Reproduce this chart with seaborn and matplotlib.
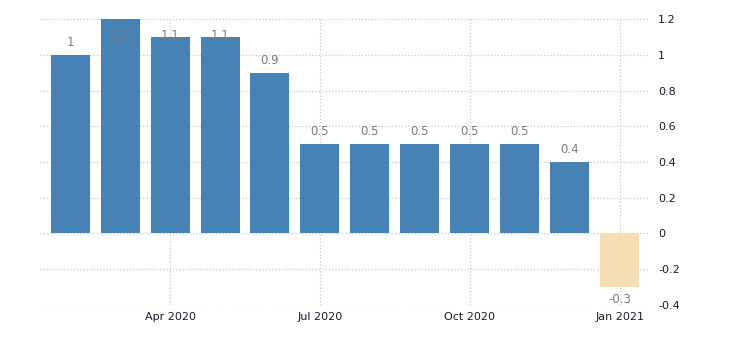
import seaborn as sns
import matplotlib.pyplot as plt
import pandas as pd

months = ["Feb 2020", "Mar 2020", "Apr 2020", "May 2020", "Jun 2020", "Jul 2020",
          "Aug 2020", "Sep 2020", "Oct 2020", "Nov 2020", "Dec 2020", "Jan 2021"]
values = [1, 1.2, 1.1, 1.1, 0.9, 0.5, 0.5, 0.5, 0.5, 0.5, 0.4, -0.3]
labels = ["1", "1.2", "1.1", "1.1", "0.9", "0.5", "0.5", "0.5", "0.5", "0.5", "0.4", "-0.3"]
tick_months = ["Apr 2020", "Jul 2020", "Oct 2020", "Jan 2021"]

df = pd.DataFrame({"month": months, "value": values})
df["sign"] = ["pos" if v >= 0 else "neg" for v in values]

sns.set_style("white")
fig = plt.figure(figsize=(7.3, 3.4), dpi=100)
ax = fig.add_axes([0.055, 0.103, 0.835, 0.841])

# bars: steel blue for positive, wheat for negative
sns.barplot(data=df, x="month", y="value", hue="sign", order=months,
            palette={"pos": "#4682b4", "neg": "#f5deb3"}, dodge=False,
            width=0.78, saturation=1, linewidth=0, legend=False, ax=ax)

# value labels
for i, (v, lab) in enumerate(zip(values, labels)):
    if v >= 0:
        y = min(v + 0.07, 1.11)
    else:
        y = v - 0.07
    ax.text(i, y, lab, ha="center", va="center", fontsize=8.5, color="#7a7a8a")

ax.set_xlim(-0.6, 11.6)
ax.set_ylim(-0.4, 1.2)
ax.set_yticks([-0.4, -0.2, 0, 0.2, 0.4, 0.6, 0.8, 1, 1.2])
ax.set_yticklabels(["-0.4", "-0.2", "0", "0.2", "0.4", "0.6", "0.8", "1", "1.2"])
ax.set_xticks([months.index(m) for m in tick_months])
ax.set_xticklabels(tick_months)
ax.yaxis.tick_right()
ax.tick_params(axis="both", length=0, labelsize=8, colors="#1a1a2e")
ax.tick_params(axis="y", pad=6)
ax.tick_params(axis="x", pad=5)
ax.set_xlabel("")
ax.set_ylabel("")
ax.grid(True, linestyle=":", color="#c8c8c8", linewidth=0.9)
ax.set_axisbelow(True)
for s in ax.spines.values():
    s.set_visible(False)

fig.savefig("out.png", dpi=100)
